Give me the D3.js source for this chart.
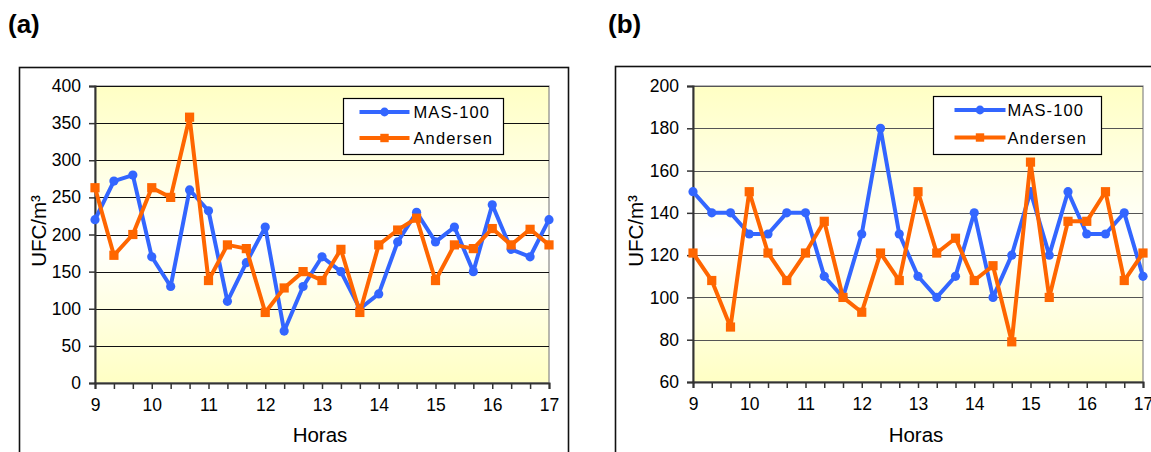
<!DOCTYPE html>
<html>
<head>
<meta charset="utf-8">
<script src="https://cdnjs.cloudflare.com/ajax/libs/d3/7.8.5/d3.min.js"></script>
<style>
  html, body { margin: 0; padding: 0; background: #fff; }
  svg { display: block; font-family: "Liberation Sans", Arial, sans-serif; }
</style>
</head>
<body>
<svg id="chart" width="1151" height="452"></svg>
<script>
// ---------- DATA ----------
const categories = ["9:00","9:20","9:40","10:00","10:20","10:40","11:00","11:20","11:40",
  "12:00","12:20","12:40","13:00","13:20","13:40","14:00","14:20","14:40",
  "15:00","15:20","15:40","16:00","16:20","16:40","17:00"];
const hourLabels = ["9","10","11","12","13","14","15","16","17"];
const seriesNames = ["MAS-100", "Andersen"];

const masA = [220,272,280,170,130,260,232,110,162,210,70,130,170,150,100,120,190,230,190,210,150,240,180,170,220];
const andA = [263,172,200,263,250,358,138,186,181,95,128,150,138,180,95,186,206,222,138,186,181,208,186,207,186];
const yTicksA = [0,50,100,150,200,250,300,350,400];

const masB = [150,140,140,130,130,140,140,110,100,130,180,130,110,100,110,140,100,120,150,120,150,130,130,140,110];
const andB = [121,108,86,150,121,108,121,136,100,93,121,108,150,121,128,108,115,79,164,100,136,136,150,108,121];
const yTicksB = [60,80,100,120,140,160,180,200];

const panelTitles = ["(a)", "(b)"];
const xTitle = "Horas";
const yTitle = "UFC/m³";

// ---------- DRAW ----------
const svg = d3.select("#chart");
const colors = ["#3366FF", "#FF6600"];

const defs = svg.append("defs");
const grad = defs.append("linearGradient").attr("id", "bgGrad")
  .attr("x1", 0).attr("y1", 0).attr("x2", 0).attr("y2", 1);
grad.append("stop").attr("offset", "0%").attr("stop-color", "#FFFFC4");
grad.append("stop").attr("offset", "52%").attr("stop-color", "#FFFFFF");
grad.append("stop").attr("offset", "100%").attr("stop-color", "#FFFFC4");

function drawPanel(cfg) {
  const g = svg.append("g");

  // panel title
  g.append("text").attr("x", cfg.titleX).attr("y", 33)
    .attr("font-size", 26).attr("font-weight", "bold").attr("fill", "#000")
    .text(cfg.title);

  // outer frame
  g.append("rect").attr("x", cfg.frame[0]).attr("y", cfg.frame[1])
    .attr("width", cfg.frame[2]).attr("height", cfg.frame[3])
    .attr("fill", "none").attr("stroke", "#111").attr("stroke-width", 1.6);

  const x = d3.scalePoint().domain(categories).range([cfg.left, cfg.right]);
  const y = d3.scaleLinear().domain(cfg.yDomain).range([cfg.bottom, cfg.top]);

  // plot background
  g.append("rect").attr("x", cfg.left).attr("y", cfg.top)
    .attr("width", cfg.right - cfg.left).attr("height", cfg.bottom - cfg.top)
    .attr("fill", "url(#bgGrad)").attr("stroke", "#888").attr("stroke-width", 1.2);

  // gridlines
  g.append("g").selectAll("line").data(cfg.yTicks.slice(1)).join("line")
    .attr("x1", cfg.left).attr("x2", cfg.right)
    .attr("y1", d => Math.round(y(d)) + 0.5).attr("y2", d => Math.round(y(d)) + 0.5)
    .attr("stroke", cfg.gridColor).attr("stroke-width", 1.2);

  // axes
  const yAxis = d3.axisLeft(y).tickValues(cfg.yTicks).tickSize(6).tickPadding(8)
    .tickFormat(d3.format("d"));
  const ya = g.append("g").attr("transform", `translate(${cfg.left},0)`).call(yAxis);
  ya.select(".domain").attr("stroke", "#333").attr("stroke-width", 2);
  ya.selectAll(".tick line").attr("stroke", "#333").attr("stroke-width", 1.5);
  ya.selectAll("text").attr("font-size", 17.5).attr("fill", "#000")
    .attr("font-family", "Liberation Sans, Arial, sans-serif");

  const xAxis = d3.axisBottom(x).tickSize(6).tickPadding(10)
    .tickFormat(d => d.endsWith(":00") ? hourLabels[categories.indexOf(d) / 3] : "");
  const xa = g.append("g").attr("transform", `translate(0,${cfg.bottom})`).call(xAxis);
  xa.select(".domain").attr("stroke", "#333").attr("stroke-width", 2);
  xa.selectAll(".tick line").attr("stroke", "#333").attr("stroke-width", 1.5);
  xa.selectAll("text").attr("font-size", 17.5).attr("fill", "#000")
    .attr("font-family", "Liberation Sans, Arial, sans-serif");

  // axis titles
  g.append("text").attr("x", (cfg.left + cfg.right) / 2 - 2).attr("y", 442)
    .attr("text-anchor", "middle").attr("font-size", 20.5).attr("fill", "#000")
    .text(xTitle);
  g.append("text")
    .attr("transform", `translate(${cfg.yTitleX},231) rotate(-90)`)
    .attr("text-anchor", "middle").attr("font-size", 20.5).attr("fill", "#000")
    .text(yTitle);

  // series
  const line = d3.line().x((d, i) => x(categories[i])).y(d => y(d));
  cfg.series.forEach((vals, si) => {
    g.append("path").datum(vals).attr("d", line)
      .attr("fill", "none").attr("stroke", colors[si]).attr("stroke-width", 4)
      .attr("stroke-linejoin", "round");
    if (si === 0) {
      g.append("g").selectAll("circle").data(vals).join("circle")
        .attr("cx", (d, i) => x(categories[i])).attr("cy", d => y(d))
        .attr("r", 4.6).attr("fill", colors[si]);
    } else {
      g.append("g").selectAll("rect").data(vals).join("rect")
        .attr("x", (d, i) => x(categories[i]) - 4.6).attr("y", d => y(d) - 4.6)
        .attr("width", 9.2).attr("height", 9.2).attr("fill", colors[si]);
    }
  });

  // legend
  const L = cfg.legend;
  const lg = g.append("g").attr("transform", `translate(${L.x},${L.y})`);
  lg.append("rect").attr("x", 0).attr("y", 0).attr("width", L.w).attr("height", L.h)
    .attr("fill", "#fff").attr("stroke", "#000").attr("stroke-width", 1.2);
  seriesNames.forEach((name, si) => {
    const ry = L.rows[si];
    lg.append("line").attr("x1", L.l1).attr("x2", L.l2).attr("y1", ry).attr("y2", ry)
      .attr("stroke", colors[si]).attr("stroke-width", 4);
    const mx = (L.l1 + L.l2) / 2;
    if (si === 0) {
      lg.append("circle").attr("cx", mx).attr("cy", ry).attr("r", 4.4).attr("fill", colors[si]);
    } else {
      lg.append("rect").attr("x", mx - 4.2).attr("y", ry - 4.2).attr("width", 8.4).attr("height", 8.4)
        .attr("fill", colors[si]);
    }
    lg.append("text").attr("x", L.tx).attr("y", ry + 6).attr("font-size", 16.5)
      .attr("letter-spacing", "1.1px").attr("fill", "#000").text(name);
  });
}

drawPanel({
  title: panelTitles[0], titleX: 8,
  frame: [19.5, 67.5, 549, 420],
  left: 95, right: 549, top: 86, bottom: 383,
  yDomain: [0, 400], yTicks: yTicksA, gridColor: "#111",
  yTitleX: 46,
  series: [masA, andA],
  legend: { x: 343.5, y: 98.5, w: 160, h: 56, l1: 16, l2: 66, tx: 70, rows: [13.5, 39.5] }
});

drawPanel({
  title: panelTitles[1], titleX: 608,
  frame: [615.5, 66.5, 600, 420],
  left: 693, right: 1143, top: 86, bottom: 382,
  yDomain: [60, 200], yTicks: yTicksB, gridColor: "#555",
  yTitleX: 643,
  series: [masB, andB],
  legend: { x: 933.5, y: 96.5, w: 168, h: 58, l1: 21, l2: 72, tx: 74, rows: [13.5, 41] }
});
</script>
</body>
</html>
